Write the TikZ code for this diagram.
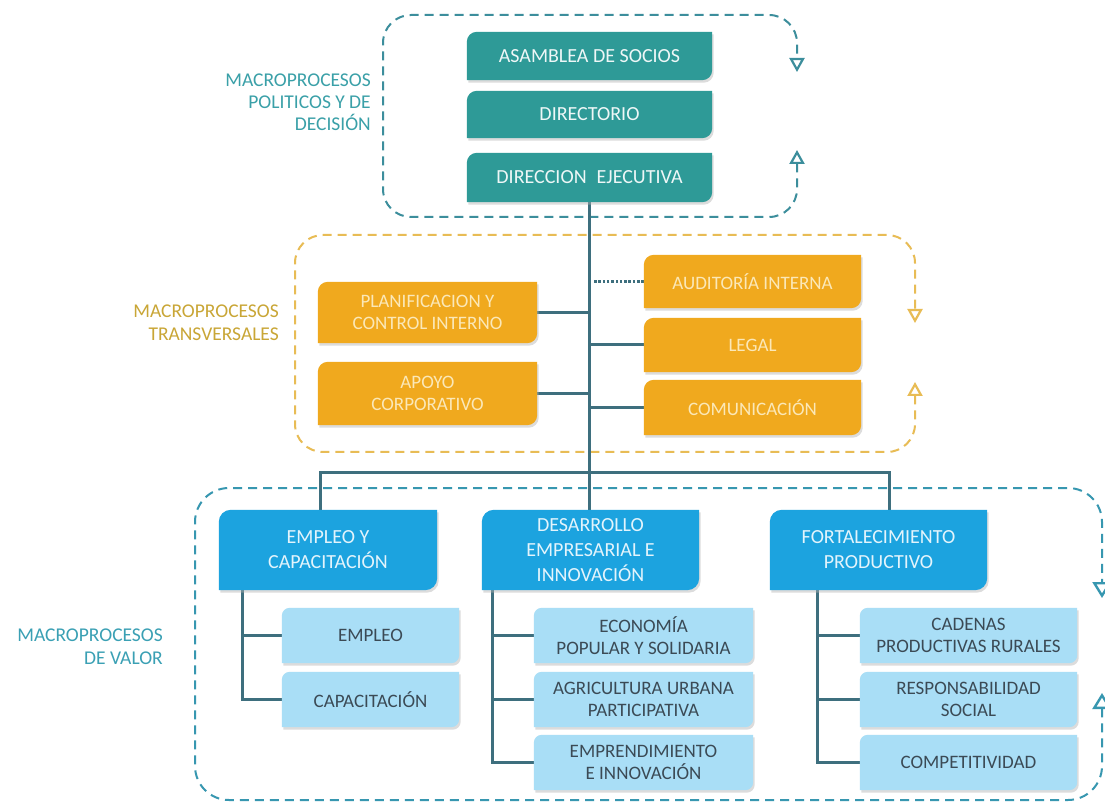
\documentclass[tikz,border=0pt]{standalone}
\usepackage{fontspec}
\setmainfont{Carlito}
\usetikzlibrary{arrows.meta,backgrounds}
\definecolor{tealbox}{HTML}{2E9A97}
\definecolor{tealline}{HTML}{3C8E9C}
\definecolor{tealtext}{HTML}{3AA0A8}
\definecolor{orbox}{HTML}{F0A91E}
\definecolor{ortext}{HTML}{FBE8B8}
\definecolor{orline}{HTML}{E8BC55}
\definecolor{orlabel}{HTML}{C9A636}
\definecolor{bluebox}{HTML}{1CA3DF}
\definecolor{bluetext}{HTML}{E3F4FC}
\definecolor{lightbox}{HTML}{A9DEF6}
\definecolor{lighttext}{HTML}{3B4A55}
\definecolor{blueline}{HTML}{3797B0}
\definecolor{bluelabel}{HTML}{3AA0B4}
\definecolor{conn}{HTML}{3E6F7E}
\newcommand\cornerbox[3]{% name, color, radius
  \fill[black!30,opacity=.45] ([xshift=1.5pt,yshift=-2.5pt]#1.south west) -- ([xshift=1.5pt,yshift=-2.5pt-#3]#1.north west) arc[start angle=180,end angle=90,radius=#3] -- ([xshift=1.5pt,yshift=-2.5pt]#1.north east) -- ([xshift=1.5pt,yshift=-2.5pt+#3]#1.south east) arc[start angle=0,end angle=-90,radius=#3] -- cycle;
  \fill[#2] (#1.south west) -- ([yshift=-#3]#1.north west) arc[start angle=180,end angle=90,radius=#3] -- (#1.north east) -- ([yshift=#3]#1.south east) arc[start angle=0,end angle=-90,radius=#3] -- cycle;}
\tikzset{
  boxtext/.style={inner sep=0pt, align=center, font=\fontsize{19}{22}\selectfont},
  tbox/.style={boxtext, text=white!92!tealbox, minimum width=245pt, font=\fontsize{20}{22}\selectfont},
  obox/.style={boxtext, text=ortext},
  bbox/.style={boxtext, text=bluetext, font=\fontsize{20}{25}\selectfont, minimum width=217pt, minimum height=80pt},
  lbox/.style={boxtext, text=lighttext, minimum height=55pt},
  lbl/.style={inner sep=0pt, align=right, anchor=east, font=\fontsize{19.5}{22}\selectfont},
  conline/.style={draw=conn, line width=3pt},
  dashbox/.style={draw=#1, line width=2pt, dash pattern=on 9pt off 6pt, rounded corners=28pt,
     {Triangle[open,length=14pt,width=15pt,line width=2.2pt]}-{Triangle[open,length=14pt,width=15pt,line width=2.2pt]}},
  bigtips/.style={{Triangle[open,length=16pt,width=19pt,line width=2.4pt]}-{Triangle[open,length=16pt,width=19pt,line width=2.4pt]}},
}
\begin{document}
\begin{tikzpicture}[x=1pt,y=1pt]
\useasboundingbox (0,0) rectangle (1105,804);

% labels
\node[lbl, text=tealtext] (lpol) at (371,702) {MACROPROCESOS\\POLITICOS Y DE\\DECISIÓN};
\node[lbl, text=orlabel, font=\fontsize{19.5}{23}\selectfont] (ltra) at (279,481) {MACROPROCESOS\\TRANSVERSALES};
\node[lbl, text=bluelabel, font=\fontsize{19.5}{23}\selectfont] (lval) at (163,157) {MACROPROCESOS\\DE VALOR};

% policy level
\node[tbox, minimum height=48pt] (asam) at (589.5,748) {ASAMBLEA DE SOCIOS};
\node[tbox, minimum height=47pt] (dirc) at (589.5,689.5) {DIRECTORIO};
\node[tbox, minimum height=49pt] (dire) at (589.5,626.5) {DIRECCION\hspace{0.5em}EJECUTIVA};

% transversal
\node[obox, minimum width=219pt, minimum height=61pt] (plan) at (427.5,491.5) {PLANIFICACION Y\\CONTROL INTERNO};
\node[obox, minimum width=219pt, minimum height=63pt] (apoyo) at (427.5,410.5) {APOYO\\CORPORATIVO};
\node[obox, minimum width=217pt, minimum height=53pt] (audit) at (752.5,522.5) {AUDITORÍA INTERNA};
\node[obox, minimum width=217pt, minimum height=54pt] (legal) at (752.5,459) {LEGAL};
\node[obox, minimum width=217pt, minimum height=55pt] (comun) at (752.5,396.5) {COMUNICACIÓN};

% value
\node[bbox, minimum width=218pt] (emp) at (328,254) {EMPLEO Y\\CAPACITACIÓN};
\node[bbox] (des) at (590.5,254) {DESARROLLO\\EMPRESARIAL E\\INNOVACIÓN};
\node[bbox] (fort) at (878.5,254) {FORTALECIMIENTO\\PRODUCTIVO};

\node[lbox, minimum width=177pt] (e1) at (370.5,168.5) {EMPLEO};
\node[lbox, minimum width=177pt] (e2) at (370.5,104.5) {CAPACITACIÓN};
\node[lbox, minimum width=219pt] (d1) at (643.5,168.5) {ECONOMÍA\\POPULAR Y SOLIDARIA};
\node[lbox, minimum width=219pt] (d2) at (643.5,104.5) {AGRICULTURA URBANA\\PARTICIPATIVA};
\node[lbox, minimum width=219pt] (d3) at (643.5,41.5) {EMPRENDIMIENTO\\E INNOVACIÓN};
\node[lbox, minimum width=217pt] (f1) at (968.5,168.5) {CADENAS\\PRODUCTIVAS RURALES};
\node[lbox, minimum width=217pt] (f2) at (968.5,104.5) {RESPONSABILIDAD\\SOCIAL};
\node[lbox, minimum width=217pt] (f3) at (968.5,41.5) {COMPETITIVIDAD};

\coordinate (bl) at (320,332);
\coordinate (br) at (889,332);
\coordinate (ev) at (242,0);
\coordinate (dv) at (492,0);
\coordinate (fv) at (817,0);

\begin{pgfonlayer}{background}
\fill[white] (0,0) rectangle (1105,804);
% dashed frames
\draw[dashbox=tealline] (797,654) -- (797,587) -- (383,587) -- (383,789) -- (797,789) -- (797,732);
\draw[dashbox=orline] (915,422) -- (915,352) -- (295,352) -- (295,569) -- (915,569) -- (915,481);
\draw[dashbox=blueline, bigtips, rounded corners=34pt] (1102,111) -- (1102,4) -- (195,4) -- (195,316) -- (1102,316) -- (1102,206);

% connectors
\draw[conline] (dire.south) -- (dire.south |- des.north);
\draw[conline] (plan.east) -- (plan.east -| dire.south);
\draw[conline] (apoyo.east) -- (apoyo.east -| dire.south);
\draw[conline] (legal.west) -- (legal.west -| dire.south);
\draw[conline] (comun.west) -- (comun.west -| dire.south);
\draw[draw=conn, line width=3pt, dash pattern=on 2.5pt off 1.8pt] (audit.west) -- ([xshift=3pt]audit.west -| dire.south);
\draw[conline] (emp.north -| bl) -- (bl) -- (br) -- (fort.north -| br);
\draw[conline] (emp.south -| ev) |- (e2.west);
\draw[conline] (e1.west -| ev) -- (e1.west);
\draw[conline] (des.south -| dv) |- (d3.west);
\draw[conline] (d1.west -| dv) -- (d1.west);
\draw[conline] (d2.west -| dv) -- (d2.west);
\draw[conline] (fort.south -| fv) |- (f3.west);
\draw[conline] (f1.west -| fv) -- (f1.west);
\draw[conline] (f2.west -| fv) -- (f2.west);

% box shapes
\cornerbox{asam}{tealbox}{10pt}
\cornerbox{dirc}{tealbox}{10pt}
\cornerbox{dire}{tealbox}{10pt}
\cornerbox{plan}{orbox}{10pt}
\cornerbox{apoyo}{orbox}{10pt}
\cornerbox{audit}{orbox}{10pt}
\cornerbox{legal}{orbox}{10pt}
\cornerbox{comun}{orbox}{10pt}
\cornerbox{emp}{bluebox}{12pt}
\cornerbox{des}{bluebox}{12pt}
\cornerbox{fort}{bluebox}{12pt}
\cornerbox{e1}{lightbox}{8pt}
\cornerbox{e2}{lightbox}{8pt}
\cornerbox{d1}{lightbox}{8pt}
\cornerbox{d2}{lightbox}{8pt}
\cornerbox{d3}{lightbox}{8pt}
\cornerbox{f1}{lightbox}{8pt}
\cornerbox{f2}{lightbox}{8pt}
\cornerbox{f3}{lightbox}{8pt}
\end{pgfonlayer}
\end{tikzpicture}
\end{document}
